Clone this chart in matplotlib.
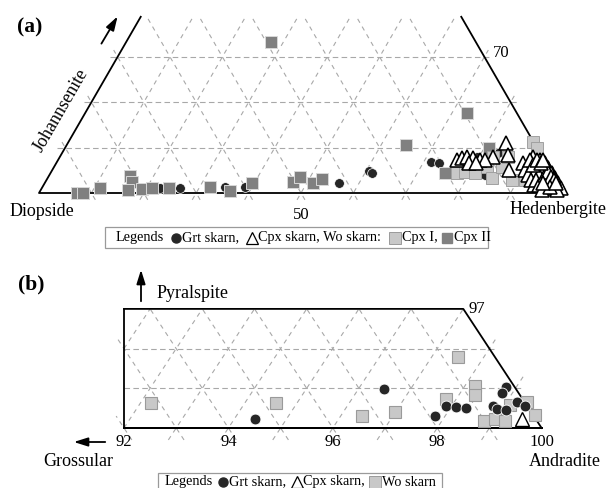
import numpy as np
import matplotlib
matplotlib.use('Agg')
import matplotlib.pyplot as plt
from matplotlib.patches import FancyArrowPatch, Rectangle
from matplotlib.lines import Line2D

plt.rcParams['font.family'] = ['Liberation Serif', 'DejaVu Serif']

W, H = 612, 488

# ---- (a) pyroxene compositions, mol% (Di = 100 - Hd - Jo) ----
cpx2_hd = [7.3, 8.4, 11.1, 15.5, 16.5, 16.7, 19.2, 21.0, 24.3, 32.0, 36.2, 39.5,
           47.3, 48.1, 51.2, 52.5, 27.6, 72.9, 64.7, 75.3, 80.9]
cpx2_jo = [0.0, 0.0, 1.1, 3.8, 2.4, 0.7, 0.9, 1.1, 1.1, 1.3, 0.4, 2.2,
           2.4, 3.5, 2.2, 3.1, 33.3, 17.6, 10.6, 4.4, 9.9]

cpx1_hd = [88.7, 90.1, 77.6, 79.0, 81.0, 78.4, 80.9, 82.6, 84.8, 85.5, 88.8, 90.8,
           92.7, 94.2, 94.7, 82.7, 85.5, 91.3, 95.7]
cpx1_jo = [11.2, 9.9, 4.4, 4.6, 4.4, 6.6, 6.6, 5.7, 3.3, 5.7, 2.9, 5.7,
           4.0, 2.9, 4.4, 7.9, 7.9, 2.9, 1.8]

grt_a_hd = [22.5, 26.4, 34.8, 38.7, 56.1, 60.6, 61.3, 71.4, 73.0, 79.6, 81.7, 83.2, 83.1, 97.4]
grt_a_jo = [1.1, 1.1, 1.3, 1.3, 2.2, 4.9, 4.4, 6.8, 6.6, 7.9, 7.3, 8.8, 4.0, 1.3]

cpxsk_a_hd = [76.1, 76.9, 77.7, 79.0, 80.5, 78.8, 82.7, 83.6, 85.3, 87.2, 89.1, 90.3,
              92.0, 93.3, 94.4, 95.7, 96.8, 97.9, 99.1, 92.1, 93.6, 95.1, 96.3, 97.4,
              95.7, 94.6, 93.4, 97.4, 90.6, 81.5, 80.1,
              94.4, 95.6, 96.7, 97.2, 94.4, 95.6, 96.7, 97.8, 93.2, 95.1, 96.3, 92.3,
              93.4, 98.5,
              90.2, 91.3, 92.5, 93.6, 90.1, 91.2, 93.4, 94.5, 95.7, 94.6, 94.8, 95.9,
              96.9, 96.9, 95.1, 91.4, 92.5, 92.5, 97.6]
cpxsk_a_jo = [7.3, 7.7, 7.9, 7.7, 7.3, 6.6, 7.9, 11.0, 8.4, 5.1, 6.6, 7.9,
              7.3, 6.6, 5.5, 4.4, 3.3, 2.2, 1.1, 6.2, 5.1, 3.8, 2.9, 1.8,
              2.9, 3.5, 4.4, 1.1, 6.2, 7.3, 6.6,
              5.6, 4.4, 3.3, 2.6, 4.6, 3.5, 2.4, 1.3, 5.5, 2.9, 1.8, 5.1,
              4.0, 0.7,
              5.1, 4.0, 2.9, 1.8, 7.3, 6.2, 2.9, 1.8, 0.7, 4.0, 4.6, 3.5,
              2.9, 1.3, 2.2, 7.3, 6.6, 7.3, 2.2]

# ---- (b) garnet compositions, mol% (Grs = 100 - Adr - Pyr) ----
wo_adr = [92.2, 94.6, 96.4, 97.0, 97.8, 97.5, 98.2, 98.3, 98.8, 99.0, 99.2, 99.4, 99.7, 99.1]
wo_pyr = [0.63, 0.63, 0.30, 0.40, 0.73, 1.79, 1.06, 0.83, 0.18, 0.23, 0.18, 0.65, 0.33, 0.58]

grt_b_adr = [94.4, 96.5, 97.8, 97.9, 98.1, 98.3, 98.8, 98.8, 98.8, 98.9, 99.1, 99.2, 99.4]
grt_b_pyr = [0.23, 0.98, 0.30, 0.55, 0.53, 0.50, 1.03, 0.88, 0.55, 0.48, 0.45, 0.65, 0.55]

cpxsk_b_adr = [99.5]
cpxsk_b_pyr = [0.23]

GRID = '#a8a8a8'
S3 = np.sqrt(3) / 2


def tern_a(hd, jo):
    hd = np.asarray(hd, float)
    jo = np.asarray(jo, float)
    return hd + jo / 2, jo * S3


def tern_b(adr, pyr):
    adr = np.asarray(adr, float)
    pyr = np.asarray(pyr, float)
    return adr + pyr / 2, pyr


def fx(px):
    return px / W


def fy(py):
    return 1 - py / H


fig = plt.figure(figsize=(W / 100, H / 100), dpi=100)

# ---------------- panel (a) ----------------
ax = fig.add_axes([0, fy(245), 1, 245 / H])
sc = 5.24
ax.set_xlim(-39 / sc, (W - 39) / sc)
ax.set_ylim((193 - 245) / sc, 193 / sc)
ax.axis('off')

JT = 39  # upper cut of the diagram (Jo %)
ext = 1.5
for c in range(10, 100, 10):
    # constant Hd (parallel to the left edge)
    top = min(JT, 100 - c)
    jo = np.array([-ext, top + (ext if top < JT else 0)])
    x, y = tern_a([c, c], jo)
    ax.plot(x, y, color=GRID, lw=0.8, dashes=(4, 4), zorder=1)
    # constant Di (parallel to the right edge)
    top = min(JT, c)
    jo = np.array([-ext, top + (ext if top < JT else 0)])
    x, y = tern_a(c - jo, jo)
    ax.plot(x, y, color=GRID, lw=0.8, dashes=(4, 4), zorder=1)
for j in (10, 20, 30):
    x, y = tern_a([-ext, 100 - j + ext], [j, j])
    ax.plot(x, y, color=GRID, lw=0.8, dashes=(5, 3), zorder=1)

bx, by = tern_a([0, 0, 100, 100 - JT], [JT, 0, 0, JT])
ax.plot(bx, by, color='black', lw=1.3, zorder=2, solid_capstyle='butt')

x, y = tern_a(grt_a_hd, grt_a_jo)
ax.plot(x, y, 'o', ms=7, mfc='#262626', mec='white', mew=0.5, zorder=3)
x, y = tern_a(cpx2_hd, cpx2_jo)
ax.plot(x, y, 's', ms=8.6, mfc='#808080', mec='#d8d8d8', mew=0.7, zorder=4)
x, y = tern_a(cpx1_hd, cpx1_jo)
ax.plot(x, y, 's', ms=9, mfc='#c8c8c8', mec='#a0a0a0', mew=0.7, zorder=5)
x, y = tern_a(cpxsk_a_hd, cpxsk_a_jo)
ax.plot(x, y, '^', ms=10, mfc='white', mec='black', mew=1.15, zorder=6)

ax.text(50, -4.2, '50', ha='center', va='center', fontsize=12)
ax.text(86.6, 26.7, '70', ha='left', va='center', fontsize=12)

fig.text(fx(10), fy(212), 'Diopside', ha='left', va='center', fontsize=13)
fig.text(fx(510), fy(210), 'Hedenbergite', ha='left', va='center', fontsize=13)
fig.text(fx(61), fy(110), 'Johannsenite', ha='center', va='center', fontsize=13,
         rotation=60, rotation_mode='anchor')
fig.text(fx(30), fy(27), '(a)', ha='center', va='center', fontsize=15.5, fontweight='bold')

# ---------------- panel (b) ----------------
bxs, bys = 52.2, 39.7
axb = fig.add_axes([0, 0, 1, fy(245)])
axb.set_xlim(92 - 124 / bxs, 92 + (W - 124) / bxs)
axb.set_ylim((428 - H) / bys, (428 - 245) / bys)
axb.axis('off')

PT = 3
e = 0.3
for c in range(91, 100):
    # constant Adr (up-right)
    p0 = max(-e, 2 * (92 - c))
    p1 = min(PT, 100 - c)
    if p1 > p0:
        p1e = p1 + (e if p1 < PT else 0)
        x, y = tern_b([c, c], [p0, p1e])
        axb.plot(x, y, color=GRID, lw=0.8, dashes=(4, 4), zorder=1)
    # constant Grs (up-left)
    if c >= 92:
        p1 = min(PT, 2 * (c - 92))
        p1e = p1 + (e if p1 < PT else 0)
        pp = np.array([-e, p1e])
        x, y = tern_b(c - pp, pp)
        axb.plot(x, y, color=GRID, lw=0.8, dashes=(4, 4), zorder=1)
for p in (1, 2):
    axb.plot([92, 100 - p / 2 + 0.15], [p, p], color=GRID, lw=0.8,
             dashes=(5, 3), zorder=1)

axb.plot([92, 92, 100 - PT / 2, 100, 92], [PT, 0, 0, 0, 0], color='black', lw=1.3, zorder=2)
axb.plot([92, 100 - PT / 2, 100], [PT, PT, 0], color='black', lw=1.3, zorder=2)

x, y = tern_b(wo_adr, wo_pyr)
axb.plot(x, y, 's', ms=9, mfc='#c8c8c8', mec='#9a9a9a', mew=0.8, zorder=3)
x, y = tern_b(cpxsk_b_adr, cpxsk_b_pyr)
axb.plot(x, y, '^', ms=10, mfc='white', mec='black', mew=1.0, zorder=4)
x, y = tern_b(grt_b_adr, grt_b_pyr)
axb.plot(x, y, 'o', ms=7.8, mfc='#262626', mec='white', mew=0.6, zorder=5)

for v in (92, 94, 96, 98, 100):
    axb.text(v, (428 - 442) / bys, str(v), ha='center', va='center', fontsize=12)
axb.text(98.6, 3.0, '97', ha='left', va='center', fontsize=12)

fig.text(fx(31), fy(284), '(b)', ha='center', va='center', fontsize=15.5, fontweight='bold')
fig.text(fx(157), fy(293), 'Pyralspite', ha='left', va='center', fontsize=13)
fig.text(fx(43), fy(462), 'Grossular', ha='left', va='center', fontsize=13)
fig.text(fx(529), fy(461), 'Andradite', ha='left', va='center', fontsize=13)

# ---------------- arrows ----------------
for (x0, y0), (x1, y1) in [((100, 46), (119, 14)), ((141, 304), (141, 267)),
                           ((108, 442), (71, 442))]:
    fig.add_artist(FancyArrowPatch((fx(x0), fy(y0)), (fx(x1), fy(y1)),
                                   transform=fig.transFigure,
                                   arrowstyle='-|>,head_length=0.7,head_width=0.22',
                                   mutation_scale=12, color='black', lw=1.3))


# ---------------- legends ----------------
def leg_marker(px, py, **kw):
    fig.add_artist(Line2D([fx(px)], [fy(py)], transform=fig.transFigure, ls='none', **kw))


LF = 10.3
fig.add_artist(Rectangle((fx(105), fy(248)), (488 - 105) / W, 21 / H, transform=fig.transFigure,
                         fill=False, ec='#9a9a9a', lw=0.9))
ly = 238
fig.text(fx(116), fy(ly), 'Legends', ha='left', va='center', fontsize=LF)
leg_marker(176, ly, marker='o', ms=6.5, mfc='#262626', mec='#262626')
fig.text(fx(182), fy(ly), 'Grt skarn,', ha='left', va='center', fontsize=LF)
leg_marker(252, ly, marker='^', ms=9, mfc='white', mec='black', mew=0.9)
fig.text(fx(258), fy(ly), 'Cpx skarn, Wo skarn:', ha='left', va='center', fontsize=LF)
leg_marker(395, ly, marker='s', ms=8, mfc='#c8c8c8', mec='#9a9a9a', mew=0.7)
fig.text(fx(402), fy(ly), 'Cpx I,', ha='left', va='center', fontsize=LF)
leg_marker(447, ly, marker='s', ms=6.5, mfc='#808080', mec='#808080')
fig.text(fx(454), fy(ly), 'Cpx II', ha='left', va='center', fontsize=LF)

fig.add_artist(Rectangle((fx(158), fy(490)), (442 - 158) / W, 17 / H, transform=fig.transFigure,
                         fill=False, ec='#9a9a9a', lw=0.9))
ly = 482
fig.text(fx(165), fy(ly), 'Legends', ha='left', va='center', fontsize=LF)
leg_marker(223, ly, marker='o', ms=6.5, mfc='#262626', mec='#262626')
fig.text(fx(229), fy(ly), 'Grt skarn,', ha='left', va='center', fontsize=LF)
leg_marker(297, ly, marker='^', ms=9, mfc='white', mec='black', mew=0.9)
fig.text(fx(303), fy(ly), 'Cpx skarn,', ha='left', va='center', fontsize=LF)
leg_marker(375, ly, marker='s', ms=8, mfc='#c8c8c8', mec='#9a9a9a', mew=0.7)
fig.text(fx(382), fy(ly), 'Wo skarn', ha='left', va='center', fontsize=LF)

fig.savefig('out.png', dpi=100)
